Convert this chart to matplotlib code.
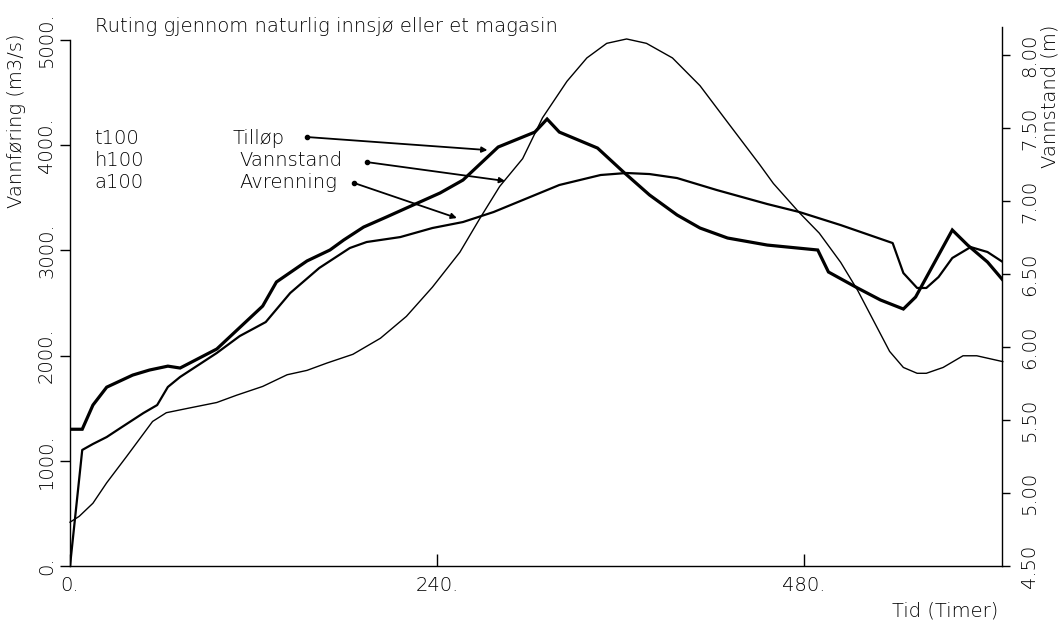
import matplotlib
matplotlib.use('Agg')
import matplotlib.pyplot as plt

plt.rcParams['font.family'] = ['DejaVu Sans']
plt.rcParams['font.weight'] = 'light'

# Tilloep (inflow), m3/s
t_tillop = [0, 8, 15, 24, 41, 52, 64, 72, 96, 126, 135, 155, 170, 179, 192, 207, 220,
            242, 257, 280, 304, 312, 320, 345, 362, 379, 397, 412, 430, 456, 489, 496,
            515, 530, 545, 553, 577, 587, 600, 610]
q_tillop = [1300, 1300, 1530, 1700, 1815, 1863, 1900, 1882, 2063, 2471, 2700, 2900, 3004,
            3099, 3222, 3318, 3403, 3546, 3669, 3983, 4125, 4249, 4125, 3973, 3745, 3527,
            3337, 3213, 3118, 3051, 3004, 2795, 2643, 2529, 2443, 2557, 3194, 3051, 2890, 2719]

# Avrenning (outflow), m3/s
t_avrenning = [0, 8, 15, 24, 33, 48, 57, 64, 72, 96, 111, 128, 144, 163, 183, 194, 216,
               237, 257, 277, 320, 347, 364, 379, 397, 423, 456, 477, 504, 538, 545, 554,
               560, 568, 577, 589, 600, 610]
q_avrenning = [0, 1103, 1160, 1226, 1312, 1454, 1530, 1702, 1797, 2025, 2186, 2319, 2595,
               2833, 3023, 3080, 3127, 3213, 3270, 3365, 3622, 3717, 3736, 3726, 3688, 3574,
               3441, 3365, 3241, 3070, 2785, 2643, 2643, 2747, 2928, 3032, 2985, 2890]

# Vannstand (water level), m
t_vannstand = [0, 6, 15, 24, 37, 54, 63, 77, 96, 109, 126, 142, 155, 168, 185, 203, 220,
               237, 255, 268, 281, 296, 309, 325, 338, 351, 364, 377, 394, 412, 430, 451,
               460, 477, 490, 504, 515, 536, 545, 554, 560, 571, 584, 593, 610]
h_vannstand = [4.80, 4.84, 4.93, 5.07, 5.25, 5.49, 5.55, 5.58, 5.62, 5.67, 5.73, 5.81, 5.84,
               5.89, 5.95, 6.06, 6.21, 6.41, 6.65, 6.88, 7.10, 7.29, 7.57, 7.82, 7.98, 8.08,
               8.11, 8.08, 7.98, 7.79, 7.54, 7.25, 7.12, 6.92, 6.78, 6.58, 6.39, 5.97, 5.86,
               5.82, 5.82, 5.86, 5.94, 5.94, 5.90]

x_ticks = [0, 240, 480]
q_ticks = [0, 1000, 2000, 3000, 4000, 5000]
h_ticks = [4.5, 5.0, 5.5, 6.0, 6.5, 7.0, 7.5, 8.0]

FS = 14
W, H = 1063, 627
fig = plt.figure(figsize=(W / 100, H / 100), dpi=100)
ax = fig.add_axes([70 / W, (H - 566) / H, 932 / W, 539 / H])
ax2 = ax.twinx()

ax.plot(t_tillop, q_tillop, color='black', lw=2.3, solid_joinstyle='miter')
ax.plot(t_avrenning, q_avrenning, color='black', lw=1.6)
ax2.plot(t_vannstand, h_vannstand, color='black', lw=1.0, clip_on=False)

ax.set_xlim(0, 609.5)
ax.set_ylim(0, 5124)
ax2.set_ylim(4.5, 8.192)

# spines
ax.spines['top'].set_visible(False)
ax.spines['right'].set_visible(False)
ax.spines['left'].set_bounds(0, 5000)
ax2.spines['top'].set_visible(False)
ax2.spines['left'].set_visible(False)
ax2.spines['bottom'].set_visible(False)
for sp in ['left', 'bottom']:
    ax.spines[sp].set_linewidth(1.0)
ax2.spines['right'].set_linewidth(1.0)

# ticks
ax.set_xticks(x_ticks)
ax.set_xticklabels([f'{v}.' for v in x_ticks])
ax.tick_params(axis='x', direction='in', length=9, width=1, labelsize=FS, pad=7)
ax.set_yticks(q_ticks)
ax.set_yticklabels([f'{v}.' for v in q_ticks], rotation=90, va='center')
ax.tick_params(axis='y', direction='out', length=7, width=1, labelsize=FS, pad=3)
ax2.set_yticks(h_ticks)
ax2.set_yticklabels([f'{v:.2f}' for v in h_ticks], rotation=90, va='center')
ax2.tick_params(axis='y', direction='out', length=6, width=1, labelsize=FS, pad=7)

# texts
fig.text(95 / W, 1 - 27 / H, 'Ruting gjennom naturlig innsjø eller et magasin',
         fontsize=FS, ha='left', va='center')
fig.text(17 / W, 1 - 33 / H, 'Vannføring (m3/s)', rotation=90, fontsize=FS,
         ha='center', va='top')
fig.text(1050 / W, 1 - 25 / H, 'Vannstand (m)', rotation=90, fontsize=FS,
         ha='center', va='top')
fig.text(998 / W, 1 - 611 / H, 'Tid (Timer)', fontsize=FS, ha='right', va='center')

for i, s in enumerate(['t100', 'h100', 'a100']):
    ax.text(16, 4068 - i * 209, s, fontsize=FS, ha='left', va='center')

labels = ['Tilløp', 'Vannstand', 'Avrenning']
label_x = [106, 111, 110.5]
label_y = [4068, 3859, 3650]
arrow_start = [(155, 4078), (194, 3840), (186, 3640)]
arrow_end = [(273, 3954), (284.5, 3660), (253, 3308)]
for lab, lx, ly, (sx, sy), (ex, ey) in zip(labels, label_x, label_y, arrow_start, arrow_end):
    ax.text(lx, ly, lab, fontsize=FS, ha='left', va='center')
    ax.annotate('', xy=(ex, ey), xytext=(sx, sy),
                arrowprops=dict(arrowstyle='-|>', color='black', lw=1.3,
                                mutation_scale=8, shrinkA=0, shrinkB=0))
    ax.plot([sx], [sy], 'o', color='black', ms=3)

fig.savefig('out.png', dpi=100)
